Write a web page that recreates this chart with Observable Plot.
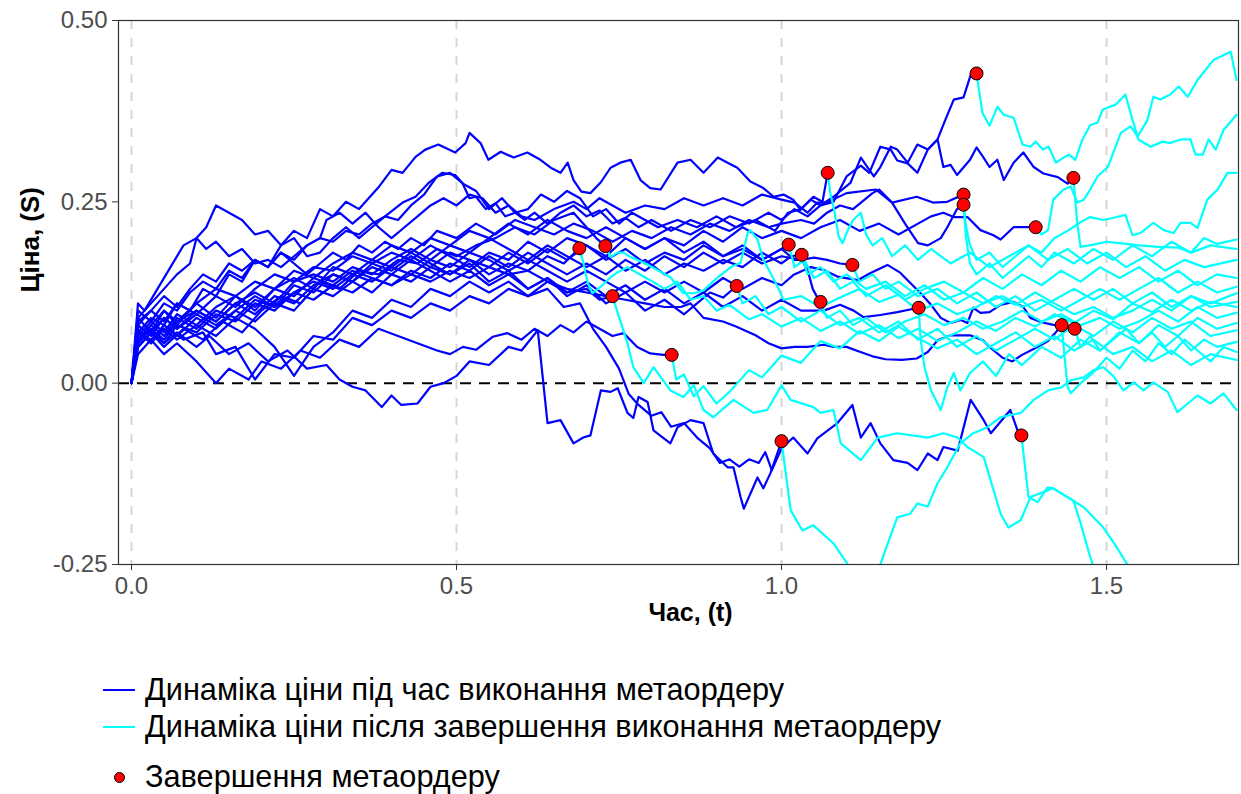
<!DOCTYPE html>
<html>
<head>
<meta charset="utf-8">
<script src="https://cdn.jsdelivr.net/npm/d3@7"></script>
<script src="https://cdn.jsdelivr.net/npm/@observablehq/plot@0.6"></script>
<style>
  html, body { margin: 0; padding: 0; background: #fff; }
  body { font-family: "Liberation Sans", Arial, sans-serif; }
  #page { position: relative; width: 1241px; height: 794px; overflow: hidden; }
  #chart svg { display: block; }
  .legend-item { position: absolute; left: 103px; height: 40px; display: flex; align-items: center; }
  .legend-key { width: 32px; height: 40px; position: relative; margin-right: 10px; }
  .legend-key .ln { position: absolute; left: 0; right: 0; top: 19px; height: 2px; }
  .legend-key .pt { position: absolute; left: 11px; top: 15px; width: 9px; height: 9px; border-radius: 50%; background: #ff0000; border: 1px solid #000; }
  .legend-label { font-size: 30.7px; color: #000; white-space: nowrap; }
</style>
</head>
<body>
<div id="page">
  <div id="chart"></div>
</div>
<script>
// Axis ticks and titles
const xTicks = [0, 0.5, 1.0, 1.5];
const yTicks = [-0.25, 0, 0.25, 0.5];
const xTitle = "Час, (t)";
const yTitle = "Ціна, (S)";
const legendLabels = [
  "Динаміка ціни під час виконання метаордеру",
  "Динаміка ціни після завершення виконання метаордеру",
  "Завершення метаордеру"
];

// Each simulated path: [t, S] points while the metaorder is executing (ends at the
// completion point) and the points after completion.
const during01 = [[0,0],[0.01,0.06],[0.03,0.08],[0.05,0.065],[0.07,0.09],[0.1,0.075],[0.13,0.1],[0.16,0.09],[0.19,0.115],[0.22,0.105],[0.25,0.135],[0.28,0.125],[0.31,0.15],[0.34,0.14],[0.37,0.165],[0.4,0.155],[0.43,0.175],[0.46,0.16],[0.49,0.18],[0.52,0.17],[0.55,0.15],[0.58,0.165],[0.61,0.155],[0.64,0.175],[0.665,0.165],[0.689,0.186]];
const after01 = [[0.694,0.17],[0.702,0.138],[0.709,0.124],[0.722,0.133],[0.737,0.146],[0.748,0.153],[0.763,0.16],[0.778,0.152],[0.798,0.142],[0.82,0.13],[0.84,0.14],[0.86,0.115],[0.88,0.12],[0.9,0.1],[0.92,0.108],[0.95,0.088],[0.97,0.095],[1.0,0.078],[1.03,0.09],[1.06,0.072],[1.09,0.085],[1.12,0.068],[1.15,0.08],[1.18,0.062],[1.21,0.075],[1.24,0.058],[1.27,0.07],[1.3,0.085],[1.33,0.072],[1.36,0.09],[1.39,0.078],[1.42,0.095],[1.45,0.083],[1.48,0.1],[1.51,0.088],[1.54,0.11],[1.57,0.098],[1.6,0.115],[1.63,0.1],[1.66,0.112],[1.7,0.105]];

const during02 = [[0,0],[0.01,0.05],[0.03,0.07],[0.05,0.05],[0.08,0.075],[0.11,0.06],[0.14,0.085],[0.17,0.07],[0.2,0.1],[0.23,0.12],[0.26,0.11],[0.29,0.14],[0.32,0.13],[0.35,0.155],[0.38,0.15],[0.41,0.17],[0.44,0.165],[0.47,0.185],[0.5,0.175],[0.53,0.19],[0.56,0.2],[0.59,0.215],[0.62,0.205],[0.65,0.225],[0.68,0.235],[0.7,0.215],[0.715,0.2],[0.729,0.189]];
const after02 = [[0.737,0.174],[0.748,0.18],[0.757,0.18],[0.768,0.174],[0.788,0.166],[0.809,0.156],[0.829,0.146],[0.849,0.124],[0.865,0.124],[0.88,0.128],[0.902,0.146],[0.922,0.16],[0.937,0.166],[0.948,0.207],[0.952,0.211],[0.963,0.198],[0.972,0.17],[0.983,0.152],[0.994,0.133],[1.003,0.115],[1.03,0.12],[1.06,0.105],[1.09,0.118],[1.12,0.13],[1.15,0.112],[1.18,0.122],[1.21,0.1],[1.24,0.11],[1.27,0.095],[1.3,0.105],[1.33,0.12],[1.36,0.108],[1.39,0.125],[1.42,0.11],[1.45,0.095],[1.48,0.105],[1.51,0.09],[1.54,0.1],[1.57,0.115],[1.6,0.1],[1.63,0.12],[1.66,0.105],[1.7,0.112]];

const during03 = [[0,0],[0.01,0.07],[0.03,0.06],[0.05,0.08],[0.08,0.06],[0.11,0.07],[0.13,0.04],[0.16,0.05],[0.19,0.005],[0.22,0.04],[0.25,0.035],[0.28,0.065],[0.31,0.06],[0.34,0.09],[0.37,0.08],[0.4,0.1],[0.43,0.09],[0.46,0.11],[0.49,0.1],[0.52,0.12],[0.55,0.11],[0.58,0.13],[0.61,0.12],[0.64,0.14],[0.67,0.125],[0.7,0.13],[0.72,0.115],[0.74,0.12]];
const after03 = [[0.748,0.097],[0.763,0.055],[0.772,0.022],[0.788,0.0],[0.803,0.022],[0.829,-0.01],[0.849,-0.019],[0.865,-0.003],[0.88,-0.037],[0.895,-0.047],[0.926,-0.023],[0.957,-0.041],[0.978,-0.037],[1.0,-0.003],[1.014,-0.023],[1.049,-0.033],[1.06,-0.041],[1.08,-0.037],[1.091,-0.083],[1.122,-0.106],[1.148,-0.075],[1.178,-0.069],[1.225,-0.075],[1.249,-0.069],[1.271,-0.075],[1.286,-0.088],[1.311,-0.102],[1.337,-0.18],[1.349,-0.199],[1.368,-0.189],[1.383,-0.157],[1.418,-0.145],[1.465,-0.171],[1.495,-0.199],[1.514,-0.224],[1.532,-0.25],[1.55,-0.28],[1.57,-0.31]];

const during04 = [[0,0],[0.01,0.04],[0.03,0.06],[0.05,0.04],[0.07,0.055],[0.1,0.03],[0.13,0.0],[0.15,0.02],[0.18,0.005],[0.2,0.03],[0.23,0.02],[0.26,0.045],[0.29,0.035],[0.32,0.06],[0.35,0.05],[0.38,0.075],[0.41,0.065],[0.44,0.055],[0.47,0.045],[0.49,0.04],[0.51,0.05],[0.53,0.046],[0.556,0.064],[0.578,0.069],[0.6,0.06],[0.62,0.075],[0.64,0.065],[0.66,0.08],[0.68,0.07],[0.7,0.085],[0.72,0.075],[0.74,0.065],[0.757,0.069],[0.778,0.05],[0.798,0.041],[0.818,0.039],[0.831,0.039]];
const after04 = [[0.838,0.005],[0.85,0.012],[0.865,-0.018],[0.88,-0.004],[0.9,-0.028],[0.92,-0.012],[0.95,0.018],[0.97,0.008],[1.0,0.038],[1.03,0.028],[1.06,0.058],[1.09,0.048],[1.12,0.072],[1.15,0.058],[1.18,0.078],[1.21,0.062],[1.24,0.048],[1.27,0.06],[1.3,0.04],[1.33,0.055],[1.36,0.07],[1.39,0.05],[1.42,0.065],[1.45,0.045],[1.48,0.06],[1.51,0.04],[1.54,0.05],[1.57,0.03],[1.6,0.045],[1.63,0.025],[1.66,0.04],[1.7,0.032]];

const during05 = [[0,0],[0.01,0.09],[0.03,0.07],[0.05,0.1],[0.07,0.08],[0.1,0.11],[0.13,0.09],[0.16,0.12],[0.19,0.1],[0.22,0.13],[0.25,0.145],[0.28,0.13],[0.31,0.16],[0.34,0.15],[0.37,0.17],[0.4,0.16],[0.43,0.18],[0.46,0.165],[0.49,0.15],[0.52,0.165],[0.55,0.14],[0.58,0.155],[0.61,0.13],[0.64,0.145],[0.67,0.12],[0.7,0.135],[0.73,0.11],[0.76,0.125],[0.79,0.1],[0.82,0.115],[0.85,0.095],[0.87,0.11],[0.89,0.125],[0.91,0.118],[0.931,0.134]];
const after05 = [[0.94,0.11],[0.96,0.12],[0.98,0.095],[1.0,0.105],[1.03,0.085],[1.06,0.1],[1.09,0.08],[1.12,0.09],[1.15,0.07],[1.18,0.085],[1.21,0.06],[1.24,0.075],[1.27,0.05],[1.3,0.065],[1.33,0.045],[1.36,0.06],[1.39,0.075],[1.42,0.06],[1.45,0.08],[1.48,0.065],[1.51,0.085],[1.54,0.07],[1.57,0.09],[1.6,0.075],[1.63,0.085],[1.66,0.065],[1.7,0.073]];

const during06 = [[0,0],[0.01,0.06],[0.03,0.075],[0.05,0.055],[0.07,0.07],[0.1,0.05],[0.12,0.065],[0.15,0.04],[0.18,0.055],[0.21,0.03],[0.24,0.045],[0.27,0.02],[0.3,0.025],[0.32,0.005],[0.34,-0.005],[0.36,-0.01],[0.385,-0.033],[0.4,-0.017],[0.415,-0.03],[0.44,-0.028],[0.46,-0.005],[0.48,0.0],[0.5,0.01],[0.52,0.03],[0.55,0.025],[0.58,0.05],[0.6,0.045],[0.625,0.073],[0.64,-0.055],[0.66,-0.051],[0.68,-0.083],[0.695,-0.075],[0.706,-0.072],[0.722,-0.01],[0.737,-0.012],[0.748,-0.007],[0.763,-0.041],[0.772,-0.048],[0.78,-0.019],[0.794,-0.026],[0.803,-0.065],[0.829,-0.083],[0.84,-0.061],[0.86,-0.051],[0.88,-0.055],[0.895,-0.097],[0.917,-0.116],[0.926,-0.116],[0.937,-0.157],[0.942,-0.173],[0.963,-0.13],[0.972,-0.145],[0.983,-0.124],[1.0,-0.08]];
const after06 = [[1.014,-0.175],[1.032,-0.203],[1.049,-0.196],[1.08,-0.221],[1.102,-0.25],[1.12,-0.28],[1.14,-0.29],[1.152,-0.25],[1.163,-0.222],[1.178,-0.185],[1.198,-0.18],[1.209,-0.166],[1.225,-0.17],[1.24,-0.138],[1.255,-0.116],[1.275,-0.083],[1.295,-0.069],[1.316,-0.061],[1.337,-0.047],[1.368,-0.041],[1.388,-0.023],[1.41,-0.01],[1.43,-0.006],[1.445,0.004],[1.465,0.008],[1.48,0.018],[1.495,0.022],[1.51,0.01],[1.526,-0.01],[1.542,0.001],[1.557,-0.01],[1.572,0.001],[1.594,-0.012],[1.609,-0.04],[1.625,-0.028],[1.64,-0.017],[1.66,-0.028],[1.68,-0.014],[1.7,-0.037]];

const during07 = [[0,0],[0.01,0.08],[0.03,0.1],[0.05,0.085],[0.07,0.11],[0.1,0.095],[0.13,0.12],[0.16,0.105],[0.19,0.13],[0.22,0.15],[0.25,0.14],[0.28,0.16],[0.31,0.155],[0.34,0.175],[0.37,0.165],[0.4,0.18],[0.43,0.17],[0.46,0.19],[0.49,0.175],[0.52,0.16],[0.55,0.18],[0.58,0.17],[0.61,0.195],[0.64,0.18],[0.67,0.2],[0.7,0.19],[0.73,0.17],[0.76,0.185],[0.79,0.165],[0.82,0.18],[0.85,0.17],[0.88,0.19],[0.91,0.175],[0.94,0.185],[0.97,0.17],[0.99,0.18],[1.011,0.191]];
const after07 = [[1.02,0.16],[1.035,0.17],[1.05,0.145],[1.07,0.155],[1.09,0.13],[1.11,0.14],[1.13,0.12],[1.16,0.135],[1.19,0.115],[1.22,0.13],[1.25,0.14],[1.28,0.125],[1.31,0.145],[1.34,0.13],[1.37,0.15],[1.4,0.135],[1.43,0.155],[1.46,0.14],[1.49,0.16],[1.52,0.145],[1.55,0.16],[1.58,0.14],[1.61,0.155],[1.64,0.135],[1.67,0.15],[1.7,0.145]];

const during08 = [[0,0],[0.01,0.05],[0.03,0.07],[0.05,0.09],[0.07,0.075],[0.1,0.1],[0.13,0.085],[0.16,0.11],[0.19,0.125],[0.22,0.11],[0.25,0.14],[0.28,0.15],[0.31,0.14],[0.34,0.16],[0.37,0.15],[0.4,0.17],[0.43,0.185],[0.46,0.17],[0.49,0.19],[0.52,0.18],[0.55,0.2],[0.58,0.185],[0.61,0.17],[0.64,0.19],[0.67,0.175],[0.7,0.16],[0.73,0.175],[0.76,0.155],[0.79,0.17],[0.82,0.15],[0.85,0.165],[0.88,0.155],[0.91,0.17],[0.94,0.16],[0.97,0.18],[1.0,0.165],[1.015,0.175],[1.031,0.177]];
const after08 = [[1.04,0.15],[1.06,0.16],[1.08,0.14],[1.1,0.15],[1.13,0.13],[1.16,0.14],[1.19,0.12],[1.22,0.135],[1.25,0.115],[1.28,0.125],[1.31,0.11],[1.34,0.12],[1.37,0.105],[1.4,0.115],[1.43,0.1],[1.46,0.115],[1.49,0.13],[1.52,0.115],[1.55,0.13],[1.58,0.145],[1.61,0.125],[1.64,0.14],[1.67,0.125],[1.7,0.133]];

const during09 = [[0,0],[0.01,0.07],[0.03,0.055],[0.05,0.08],[0.07,0.065],[0.1,0.09],[0.13,0.075],[0.16,0.1],[0.19,0.085],[0.22,0.11],[0.25,0.1],[0.28,0.13],[0.31,0.12],[0.34,0.14],[0.37,0.125],[0.4,0.15],[0.43,0.14],[0.46,0.16],[0.49,0.15],[0.52,0.17],[0.55,0.16],[0.58,0.18],[0.61,0.165],[0.64,0.185],[0.67,0.17],[0.7,0.19],[0.73,0.175],[0.76,0.2],[0.79,0.185],[0.82,0.2],[0.85,0.18],[0.88,0.195],[0.91,0.175],[0.94,0.19],[0.97,0.17],[1.0,0.185],[1.02,0.17],[1.032,0.17],[1.042,0.15],[1.048,0.13],[1.054,0.12],[1.06,0.112]];
const after09 = [[1.07,0.09],[1.09,0.1],[1.11,0.08],[1.13,0.09],[1.16,0.07],[1.19,0.085],[1.22,0.095],[1.25,0.08],[1.28,0.09],[1.31,0.075],[1.34,0.085],[1.37,0.1],[1.4,0.085],[1.43,0.095],[1.46,0.08],[1.49,0.09],[1.52,0.075],[1.55,0.085],[1.58,0.1],[1.61,0.085],[1.64,0.105],[1.67,0.09],[1.7,0.097]];

const during10 = [[0,0],[0.01,0.11],[0.02,0.1],[0.04,0.13],[0.06,0.16],[0.08,0.19],[0.1,0.2],[0.115,0.215],[0.13,0.245],[0.15,0.235],[0.17,0.225],[0.19,0.205],[0.21,0.21],[0.23,0.19],[0.25,0.2],[0.27,0.175],[0.29,0.18],[0.31,0.2],[0.33,0.215],[0.35,0.2],[0.37,0.215],[0.39,0.23],[0.41,0.225],[0.43,0.245],[0.45,0.26],[0.47,0.285],[0.49,0.29],[0.51,0.275],[0.53,0.265],[0.55,0.24],[0.57,0.255],[0.59,0.235],[0.61,0.24],[0.63,0.26],[0.65,0.25],[0.67,0.265],[0.69,0.255],[0.71,0.23],[0.73,0.24],[0.75,0.22],[0.77,0.235],[0.79,0.225],[0.81,0.215],[0.84,0.225],[0.87,0.215],[0.9,0.23],[0.93,0.215],[0.96,0.225],[0.99,0.21],[1.01,0.235],[1.03,0.24],[1.049,0.257],[1.063,0.25],[1.071,0.29]];
const after10 = [[1.075,0.262],[1.08,0.243],[1.088,0.202],[1.094,0.193],[1.102,0.211],[1.11,0.225],[1.122,0.235],[1.13,0.205],[1.14,0.19],[1.155,0.2],[1.17,0.175],[1.19,0.19],[1.21,0.17],[1.23,0.185],[1.26,0.165],[1.29,0.18],[1.32,0.16],[1.35,0.175],[1.38,0.19],[1.41,0.17],[1.44,0.185],[1.47,0.165],[1.5,0.18],[1.53,0.16],[1.56,0.175],[1.59,0.155],[1.62,0.17],[1.65,0.16],[1.7,0.17]];

const during11 = [[0,0],[0.01,0.065],[0.03,0.085],[0.05,0.07],[0.07,0.095],[0.1,0.08],[0.13,0.105],[0.16,0.12],[0.19,0.105],[0.22,0.13],[0.25,0.12],[0.28,0.145],[0.31,0.135],[0.34,0.155],[0.37,0.145],[0.4,0.135],[0.43,0.155],[0.46,0.145],[0.49,0.165],[0.52,0.155],[0.55,0.175],[0.58,0.16],[0.61,0.18],[0.64,0.165],[0.67,0.15],[0.7,0.165],[0.73,0.15],[0.76,0.17],[0.79,0.155],[0.82,0.175],[0.85,0.16],[0.88,0.18],[0.91,0.165],[0.94,0.18],[0.97,0.165],[1.0,0.175],[1.03,0.17],[1.05,0.173],[1.07,0.17],[1.09,0.165],[1.109,0.163]];
const after11 = [[1.12,0.14],[1.14,0.15],[1.16,0.13],[1.18,0.14],[1.21,0.12],[1.24,0.13],[1.27,0.11],[1.3,0.125],[1.33,0.105],[1.36,0.12],[1.39,0.1],[1.42,0.115],[1.45,0.13],[1.48,0.115],[1.51,0.13],[1.54,0.11],[1.57,0.125],[1.6,0.105],[1.63,0.12],[1.66,0.11],[1.7,0.124]];

const during12 = [[0,0],[0.01,0.055],[0.03,0.075],[0.05,0.06],[0.07,0.085],[0.1,0.1],[0.13,0.085],[0.16,0.11],[0.19,0.095],[0.22,0.12],[0.25,0.11],[0.28,0.135],[0.31,0.15],[0.34,0.14],[0.37,0.16],[0.4,0.15],[0.43,0.17],[0.46,0.155],[0.49,0.14],[0.52,0.155],[0.55,0.135],[0.58,0.15],[0.61,0.13],[0.64,0.145],[0.67,0.125],[0.7,0.14],[0.73,0.12],[0.76,0.135],[0.79,0.115],[0.82,0.13],[0.85,0.11],[0.88,0.125],[0.91,0.105],[0.94,0.12],[0.97,0.1],[1.0,0.115],[1.03,0.1],[1.065,0.1],[1.09,0.108],[1.111,0.1],[1.126,0.091],[1.152,0.094],[1.178,0.098],[1.211,0.104]];
const after12 = [[1.214,0.06],[1.22,0.022],[1.23,-0.01],[1.245,-0.037],[1.255,-0.006],[1.265,0.014],[1.275,-0.01],[1.29,0.014],[1.31,0.03],[1.33,0.01],[1.35,0.04],[1.37,0.025],[1.4,0.05],[1.43,0.035],[1.46,0.06],[1.49,0.045],[1.52,0.07],[1.55,0.055],[1.58,0.08],[1.61,0.065],[1.64,0.09],[1.67,0.075],[1.7,0.083]];

const during13 = [[0,0],[0.01,0.09],[0.03,0.11],[0.05,0.13],[0.07,0.15],[0.09,0.165],[0.1,0.2],[0.115,0.185],[0.13,0.195],[0.15,0.175],[0.17,0.185],[0.19,0.165],[0.21,0.17],[0.23,0.16],[0.25,0.175],[0.27,0.19],[0.29,0.2],[0.3,0.225],[0.32,0.235],[0.34,0.22],[0.36,0.235],[0.38,0.215],[0.4,0.2],[0.42,0.215],[0.44,0.23],[0.46,0.245],[0.48,0.255],[0.5,0.245],[0.52,0.26],[0.54,0.255],[0.56,0.235],[0.58,0.245],[0.6,0.23],[0.62,0.225],[0.65,0.24],[0.68,0.25],[0.7,0.24],[0.72,0.255],[0.74,0.245],[0.76,0.235],[0.79,0.245],[0.82,0.24],[0.85,0.255],[0.88,0.245],[0.91,0.255],[0.94,0.245],[0.97,0.26],[1.0,0.253],[1.02,0.249],[1.04,0.235],[1.055,0.249],[1.07,0.249],[1.1,0.262],[1.145,0.267],[1.17,0.249],[1.208,0.257],[1.233,0.249],[1.255,0.25],[1.28,0.26]];
const after13 = [[1.283,0.22],[1.29,0.19],[1.3,0.17],[1.32,0.18],[1.34,0.16],[1.36,0.175],[1.38,0.19],[1.4,0.18],[1.42,0.2],[1.44,0.21],[1.46,0.222],[1.475,0.229],[1.495,0.225],[1.511,0.228],[1.529,0.232],[1.54,0.204],[1.552,0.207],[1.572,0.221],[1.588,0.211],[1.603,0.207],[1.614,0.221],[1.629,0.221],[1.64,0.214],[1.655,0.253],[1.671,0.267],[1.686,0.29],[1.7,0.29]];

const during14 = [[0,0],[0.01,0.1],[0.03,0.085],[0.05,0.11],[0.07,0.1],[0.09,0.125],[0.11,0.14],[0.13,0.13],[0.15,0.155],[0.17,0.145],[0.19,0.17],[0.21,0.16],[0.23,0.18],[0.25,0.165],[0.27,0.15],[0.29,0.165],[0.31,0.18],[0.33,0.17],[0.35,0.19],[0.37,0.18],[0.39,0.195],[0.41,0.185],[0.43,0.2],[0.45,0.19],[0.47,0.21],[0.5,0.2],[0.53,0.22],[0.56,0.205],[0.59,0.225],[0.62,0.215],[0.65,0.205],[0.68,0.22],[0.71,0.21],[0.74,0.195],[0.77,0.21],[0.8,0.2],[0.83,0.215],[0.86,0.205],[0.89,0.22],[0.92,0.21],[0.95,0.225],[0.98,0.215],[1.0,0.22],[1.03,0.225],[1.05,0.22],[1.07,0.235],[1.09,0.245],[1.11,0.24],[1.14,0.262],[1.15,0.267],[1.17,0.249],[1.19,0.22],[1.21,0.193],[1.225,0.19],[1.245,0.2],[1.255,0.215],[1.27,0.24],[1.28,0.246]];
const after14 = [[1.284,0.2],[1.29,0.165],[1.3,0.15],[1.32,0.165],[1.34,0.145],[1.36,0.16],[1.38,0.175],[1.4,0.16],[1.42,0.18],[1.45,0.165],[1.48,0.185],[1.51,0.17],[1.54,0.19],[1.57,0.175],[1.6,0.195],[1.63,0.18],[1.66,0.19],[1.7,0.185]];

const during15 = [[0,0],[0.01,0.07],[0.03,0.09],[0.05,0.08],[0.07,0.11],[0.09,0.1],[0.11,0.13],[0.13,0.12],[0.15,0.15],[0.17,0.14],[0.19,0.17],[0.21,0.16],[0.23,0.19],[0.25,0.21],[0.27,0.2],[0.29,0.24],[0.31,0.23],[0.33,0.25],[0.35,0.24],[0.37,0.26],[0.38,0.27],[0.4,0.294],[0.417,0.29],[0.437,0.312],[0.452,0.322],[0.472,0.329],[0.498,0.318],[0.514,0.331],[0.52,0.345],[0.537,0.331],[0.549,0.308],[0.568,0.319],[0.588,0.311],[0.609,0.318],[0.629,0.308],[0.645,0.297],[0.66,0.29],[0.671,0.304],[0.68,0.28],[0.692,0.264],[0.706,0.262],[0.722,0.277],[0.737,0.297],[0.752,0.304],[0.768,0.308],[0.783,0.28],[0.798,0.269],[0.814,0.267],[0.84,0.304],[0.86,0.308],[0.88,0.29],[0.902,0.311],[0.917,0.304],[0.932,0.297],[0.952,0.278],[0.972,0.269],[0.988,0.257],[1.003,0.26],[1.018,0.253],[1.029,0.239],[1.045,0.253],[1.06,0.245],[1.08,0.257],[1.106,0.276],[1.122,0.311],[1.142,0.285],[1.152,0.298],[1.168,0.326],[1.178,0.322],[1.194,0.304],[1.209,0.329],[1.225,0.322],[1.24,0.336],[1.252,0.363],[1.265,0.391],[1.28,0.394],[1.291,0.425],[1.3,0.427]];
const after15 = [[1.309,0.373],[1.32,0.355],[1.332,0.381],[1.342,0.37],[1.357,0.366],[1.371,0.329],[1.383,0.326],[1.391,0.333],[1.402,0.322],[1.411,0.326],[1.422,0.304],[1.434,0.311],[1.442,0.315],[1.452,0.308],[1.463,0.336],[1.475,0.356],[1.486,0.359],[1.494,0.377],[1.502,0.38],[1.514,0.384],[1.529,0.398],[1.54,0.363],[1.549,0.336],[1.568,0.326],[1.586,0.333],[1.598,0.331],[1.614,0.336],[1.629,0.336],[1.637,0.315],[1.648,0.315],[1.657,0.336],[1.668,0.322],[1.68,0.349],[1.7,0.37]];

const during16 = [[0,0],[0.01,0.075],[0.03,0.055],[0.05,0.075],[0.07,0.06],[0.1,0.08],[0.13,0.065],[0.16,0.09],[0.19,0.075],[0.22,0.05],[0.25,0.01],[0.28,0.05],[0.31,0.07],[0.34,0.1],[0.37,0.09],[0.4,0.115],[0.43,0.105],[0.46,0.13],[0.49,0.12],[0.52,0.14],[0.55,0.125],[0.58,0.14],[0.61,0.12],[0.64,0.13],[0.665,0.105],[0.69,0.11],[0.71,0.075],[0.73,0.05],[0.75,0.02],[0.765,-0.015],[0.78,-0.03],[0.8,-0.045],[0.815,-0.04],[0.83,-0.06],[0.85,-0.055],[0.87,-0.075],[0.89,-0.09],[0.905,-0.11],[0.92,-0.105],[0.935,-0.115],[0.95,-0.105],[0.965,-0.11],[0.975,-0.095],[0.985,-0.12],[1.0,-0.09],[1.018,-0.075],[1.04,-0.097],[1.055,-0.076],[1.086,-0.055],[1.109,-0.03],[1.122,-0.075],[1.137,-0.055],[1.152,-0.083],[1.172,-0.106],[1.194,-0.11],[1.209,-0.12],[1.225,-0.097],[1.24,-0.106],[1.249,-0.088],[1.271,-0.093],[1.291,-0.023],[1.311,-0.051],[1.322,-0.069],[1.352,-0.037],[1.363,-0.065],[1.369,-0.072]];
const after16 = [[1.38,-0.157],[1.394,-0.164],[1.409,-0.144],[1.418,-0.145],[1.449,-0.162],[1.46,-0.193],[1.475,-0.24],[1.49,-0.28],[1.5,-0.31]];

const during17 = [[0,0],[0.01,0.06],[0.03,0.08],[0.05,0.1],[0.07,0.085],[0.1,0.11],[0.13,0.13],[0.16,0.12],[0.19,0.14],[0.22,0.13],[0.25,0.155],[0.28,0.145],[0.31,0.165],[0.34,0.18],[0.37,0.17],[0.4,0.19],[0.43,0.18],[0.46,0.2],[0.49,0.19],[0.52,0.21],[0.55,0.2],[0.58,0.22],[0.61,0.205],[0.64,0.225],[0.67,0.21],[0.7,0.2],[0.73,0.215],[0.76,0.2],[0.79,0.185],[0.82,0.2],[0.85,0.19],[0.88,0.21],[0.91,0.195],[0.94,0.215],[0.97,0.2],[1.0,0.21],[1.03,0.2],[1.06,0.215],[1.09,0.225],[1.12,0.21],[1.15,0.22],[1.18,0.205],[1.21,0.22],[1.23,0.23],[1.249,0.235],[1.265,0.229],[1.286,0.229],[1.306,0.211],[1.326,0.204],[1.337,0.198],[1.357,0.215],[1.378,0.215],[1.391,0.215]];
const after17 = [[1.4,0.205],[1.41,0.211],[1.418,0.253],[1.434,0.267],[1.445,0.271],[1.455,0.249],[1.465,0.253],[1.475,0.267],[1.486,0.285],[1.502,0.298],[1.522,0.345],[1.537,0.354],[1.548,0.34],[1.563,0.363],[1.572,0.395],[1.583,0.391],[1.598,0.398],[1.611,0.409],[1.625,0.395],[1.64,0.418],[1.665,0.446],[1.691,0.457],[1.7,0.418]];

const during18 = [[0,0],[0.01,0.08],[0.03,0.065],[0.05,0.09],[0.07,0.075],[0.1,0.095],[0.13,0.08],[0.16,0.1],[0.19,0.12],[0.22,0.105],[0.25,0.125],[0.28,0.115],[0.31,0.135],[0.34,0.125],[0.37,0.145],[0.4,0.135],[0.43,0.15],[0.46,0.14],[0.49,0.155],[0.52,0.145],[0.55,0.16],[0.58,0.15],[0.61,0.155],[0.64,0.14],[0.67,0.13],[0.7,0.125],[0.73,0.12],[0.76,0.115],[0.79,0.11],[0.82,0.105],[0.845,0.105],[0.86,0.11],[0.88,0.09],[0.91,0.085],[0.93,0.078],[0.96,0.066],[0.98,0.055],[1.0,0.048],[1.02,0.05],[1.04,0.05],[1.065,0.053],[1.08,0.05],[1.1,0.05],[1.115,0.045],[1.14,0.037],[1.16,0.033],[1.185,0.032],[1.208,0.034],[1.225,0.043],[1.24,0.059],[1.26,0.066],[1.29,0.066],[1.31,0.059],[1.32,0.05],[1.34,0.035],[1.355,0.03],[1.37,0.039],[1.39,0.048],[1.41,0.058],[1.42,0.068],[1.431,0.08]];
const after18 = [[1.435,0.04],[1.44,-0.005],[1.445,-0.014],[1.46,0.0],[1.48,0.015],[1.5,0.035],[1.52,0.02],[1.54,0.045],[1.56,0.03],[1.58,0.055],[1.6,0.04],[1.62,0.06],[1.64,0.045],[1.66,0.03],[1.68,0.05],[1.7,0.043]];

const during19 = [[0,0],[0.01,0.085],[0.03,0.1],[0.05,0.12],[0.07,0.105],[0.09,0.13],[0.11,0.15],[0.13,0.14],[0.15,0.165],[0.17,0.155],[0.19,0.17],[0.21,0.16],[0.23,0.18],[0.25,0.17],[0.27,0.19],[0.29,0.2],[0.31,0.195],[0.33,0.21],[0.35,0.205],[0.37,0.22],[0.39,0.23],[0.417,0.249],[0.437,0.257],[0.457,0.276],[0.478,0.29],[0.498,0.287],[0.509,0.276],[0.52,0.255],[0.53,0.257],[0.545,0.24],[0.56,0.248],[0.575,0.23],[0.59,0.235],[0.605,0.225],[0.62,0.235],[0.64,0.22],[0.66,0.235],[0.68,0.245],[0.7,0.23],[0.72,0.238],[0.74,0.22],[0.76,0.228],[0.78,0.215],[0.8,0.225],[0.83,0.21],[0.86,0.225],[0.89,0.215],[0.92,0.23],[0.95,0.22],[0.98,0.235],[1.0,0.225],[1.02,0.24],[1.04,0.23],[1.06,0.245],[1.08,0.25],[1.1,0.285],[1.122,0.3],[1.135,0.29],[1.152,0.326],[1.168,0.322],[1.178,0.307],[1.194,0.303],[1.209,0.29],[1.225,0.322],[1.24,0.336],[1.249,0.298],[1.26,0.301],[1.27,0.287],[1.29,0.308],[1.3,0.325],[1.31,0.312],[1.32,0.298],[1.332,0.308],[1.342,0.28],[1.357,0.304],[1.372,0.318],[1.388,0.298],[1.403,0.289],[1.425,0.284],[1.44,0.275],[1.449,0.283]];
const after19 = [[1.455,0.22],[1.46,0.188],[1.48,0.191],[1.5,0.195],[1.52,0.193],[1.55,0.19],[1.58,0.188],[1.61,0.187],[1.63,0.18],[1.65,0.2],[1.67,0.192],[1.7,0.198]];

const during20 = [[0,0],[0.01,0.05],[0.03,0.07],[0.05,0.055],[0.07,0.08],[0.1,0.07],[0.13,0.095],[0.16,0.085],[0.19,0.11],[0.22,0.1],[0.25,0.125],[0.28,0.14],[0.31,0.13],[0.34,0.15],[0.37,0.14],[0.4,0.16],[0.43,0.15],[0.46,0.17],[0.49,0.16],[0.52,0.18],[0.55,0.17],[0.58,0.155],[0.61,0.17],[0.64,0.155],[0.67,0.14],[0.7,0.155],[0.73,0.14],[0.76,0.125],[0.79,0.14],[0.82,0.125],[0.85,0.14],[0.88,0.125],[0.91,0.145],[0.94,0.13],[0.97,0.145],[1.0,0.135],[1.018,0.149],[1.045,0.16],[1.065,0.156],[1.086,0.147],[1.117,0.142],[1.137,0.152],[1.163,0.163],[1.183,0.152],[1.194,0.142],[1.214,0.124],[1.23,0.108],[1.245,0.09],[1.26,0.083],[1.276,0.087],[1.286,0.083],[1.295,0.104],[1.306,0.097],[1.32,0.098],[1.337,0.108],[1.357,0.112],[1.372,0.105],[1.383,0.09],[1.4,0.084],[1.42,0.08],[1.451,0.075]];
const after20 = [[1.46,0.05],[1.475,0.065],[1.49,0.045],[1.51,0.06],[1.53,0.075],[1.55,0.055],[1.57,0.07],[1.59,0.05],[1.61,0.065],[1.63,0.045],[1.65,0.06],[1.67,0.05],[1.7,0.057]];

const runs = [
  [during01, after01], [during02, after02], [during03, after03], [during04, after04],
  [during05, after05], [during06, after06], [during07, after07], [during08, after08],
  [during09, after09], [during10, after10], [during11, after11], [during12, after12],
  [during13, after13], [during14, after14], [during15, after15], [during16, after16],
  [during17, after17], [during18, after18], [during19, after19], [during20, after20]
];

// Long-format tables for the line and dot marks
const duringRows = [];
const afterRows = [];
const completion = [];
runs.forEach(([during, after], i) => {
  during.forEach(([t, s]) => duringRows.push({run: i, t, s}));
  const end = during[during.length - 1];
  completion.push({run: i, t: end[0], s: end[1]});
  [end, ...after].forEach(([t, s]) => afterRows.push({run: i, t, s}));
});

const blue = "#0000ff";
const cyan = "#00ffff";

const chart = Plot.plot({
  width: 1241,
  height: 650,
  marginLeft: 118,
  marginRight: 3,
  marginTop: 20,
  marginBottom: 86,
  style: {fontFamily: "'Liberation Sans', Arial, sans-serif", fontSize: "24px", background: "white", overflow: "visible"},
  x: {domain: [-0.02, 1.703]},
  y: {domain: [-0.25, 0.5]},
  marks: [
    Plot.ruleX(xTicks, {stroke: "#d6d6d6", strokeWidth: 2, strokeDasharray: "9,9"}),
    Plot.ruleY([0], {stroke: "#000", strokeWidth: 2, strokeDasharray: "11,8"}),
    Plot.line(duringRows, {x: "t", y: "s", z: "run", stroke: blue, strokeWidth: 2.2, clip: true}),
    Plot.line(afterRows, {x: "t", y: "s", z: "run", stroke: cyan, strokeWidth: 2.2, clip: true}),
    Plot.dot(completion, {x: "t", y: "s", r: 6.5, fill: "#ff0000", stroke: "#000", strokeWidth: 1}),
    Plot.frame({stroke: "#333", strokeWidth: 1.2}),
    Plot.axisX(xTicks, {tickSize: 6, tickPadding: 6, stroke: "#333", fill: "#4d4d4d", fontSize: 24, tickFormat: d => d.toFixed(1), label: null}),
    Plot.axisY(yTicks, {tickSize: 6, tickPadding: 5, stroke: "#333", fill: "#4d4d4d", fontSize: 24, tickFormat: d => d.toFixed(2), label: null}),
    Plot.text([xTitle], {frameAnchor: "bottom", dy: 56, dx: 12, text: d => d, fontSize: 25, fontWeight: "bold", fill: "#000"}),
    Plot.text([yTitle], {frameAnchor: "left", dx: -88, rotate: -90, text: d => d, fontSize: 26, fontWeight: "bold", fill: "#000"})
  ]
});
document.getElementById("chart").appendChild(chart);

// Legend below the plot
const page = document.getElementById("page");
const legendRows = [
  {label: legendLabels[0], kind: "line", color: blue, center: 690},
  {label: legendLabels[1], kind: "line", color: cyan, center: 727},
  {label: legendLabels[2], kind: "point", color: "#ff0000", center: 777}
];
legendRows.forEach(row => {
  const item = document.createElement("div");
  item.className = "legend-item";
  item.style.top = (row.center - 20) + "px";
  const key = document.createElement("div");
  key.className = "legend-key";
  const mark = document.createElement("div");
  if (row.kind === "line") { mark.className = "ln"; mark.style.background = row.color; }
  else { mark.className = "pt"; }
  key.appendChild(mark);
  const text = document.createElement("span");
  text.className = "legend-label";
  text.textContent = row.label;
  item.appendChild(key);
  item.appendChild(text);
  page.appendChild(item);
});
</script>
</body>
</html>
